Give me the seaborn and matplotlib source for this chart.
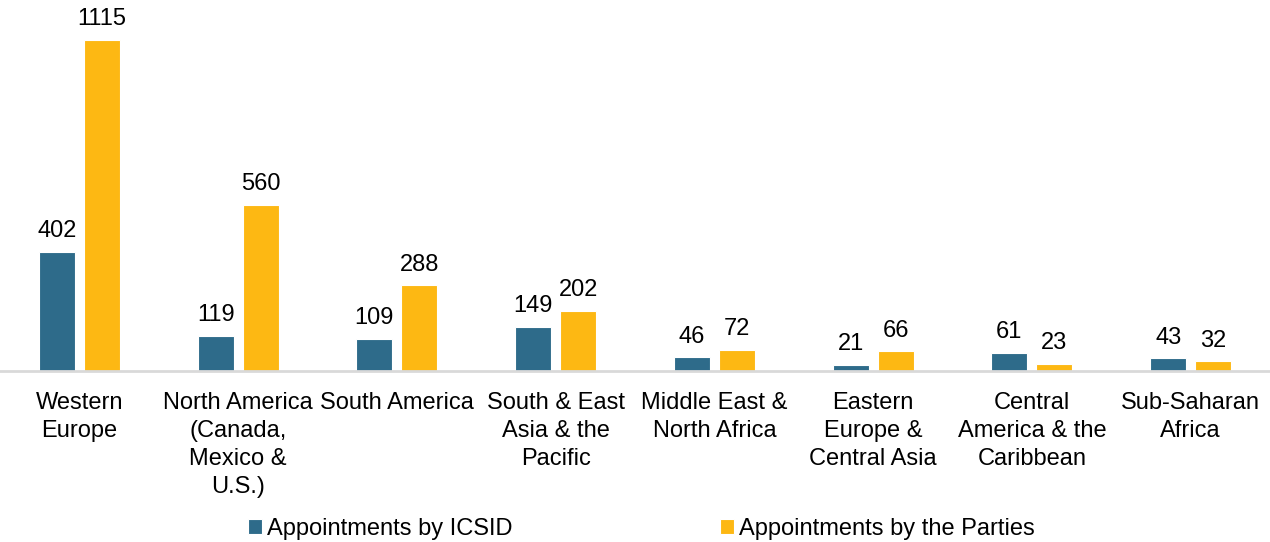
import pandas as pd
import matplotlib
matplotlib.use("Agg")
import matplotlib.pyplot as plt
import seaborn as sns

regions = ["Western\nEurope", "North America\n(Canada,\nMexico &\nU.S.)", "South America",
           "South & East\nAsia & the\nPacific", "Middle East &\nNorth Africa",
           "Eastern\nEurope &\nCentral Asia", "Central\nAmerica & the\nCaribbean",
           "Sub-Saharan\nAfrica"]
icsid = [402, 119, 109, 149, 46, 21, 61, 43]
parties = [1115, 560, 288, 202, 72, 66, 23, 32]
series = ["Appointments by ICSID", "Appointments by the Parties"]
colors = ["#2E6B8A", "#FDB813"]

df = pd.DataFrame({
    "region": regions * 2,
    "count": icsid + parties,
    "series": [series[0]] * len(regions) + [series[1]] * len(regions),
})

sns.set_style("white")
plt.rcParams["font.family"] = ["Liberation Sans", "DejaVu Sans"]

fig = plt.figure(figsize=(12.7, 5.42), dpi=100)
ax = fig.add_axes([0, 0.3155, 1, 0.6845])

sns.barplot(data=df, x="region", y="count", hue="series", palette=colors,
            saturation=1, width=0.566, gap=0.2, edgecolor="white", linewidth=0.8, ax=ax)

for cont in ax.containers:
    ax.bar_label(cont, padding=7, fontsize=17, color="#000000")

ax.set_ylim(0, 1249)
ax.set_xlim(-0.5, len(regions) - 0.5)
ax.set_xlabel("")
ax.set_ylabel("")
ax.set_yticks([])
ax.tick_params(axis="x", length=0, pad=15, labelsize=17, labelcolor="#000000")
for lbl in ax.get_xticklabels():
    lbl.set_linespacing(1.35)
    lbl.set_verticalalignment("top")
for s in ["top", "left", "right"]:
    ax.spines[s].set_visible(False)
ax.spines["bottom"].set_color("#D9D9D9")
ax.spines["bottom"].set_linewidth(2)

handles, labels = ax.get_legend_handles_labels()
ax.get_legend().remove()
fig.legend(handles, labels, loc="lower center", bbox_to_anchor=(0.505, -0.035), ncol=2,
           frameon=False, fontsize=17, columnspacing=8.8, handlelength=0.6,
           handleheight=0.6, handletextpad=0.2, labelcolor="#000000")

fig.savefig("out.png", dpi=100)
